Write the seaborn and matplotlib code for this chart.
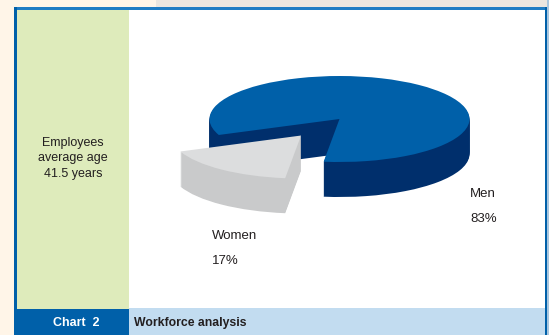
import matplotlib
matplotlib.use("Agg")
import matplotlib.pyplot as plt
from matplotlib.patches import Rectangle
import seaborn as sns

categories = ["Men", "Women"]
shares = [83, 17]
share_labels = ["83%", "17%"]
side_note = ["Employees", "average age", "41.5 years"]
chart_tag = "Chart  2"
chart_title = "Workforce analysis"

W, H = 549, 335
CX, CY, RX, RY = 339.5, 119, 130, 43
DEPTH = 35
START_ANGLE = 263
EXPLODE = [0, 0.485]

sns.set_theme(style="white")
plt.rcParams["font.family"] = ["Liberation Sans", "DejaVu Sans"]

top_colors = sns.color_palette(["#0060a9", "#dcddde"])
side_colors = sns.color_palette(["#002f6c", "#c9cacb"])

fig = plt.figure(figsize=(W / 100, H / 100), dpi=100)


def box(x0, y0, x1, y1, color):
    # Rectangle given in top-left pixel coordinates, behind the pie axes
    fig.add_artist(Rectangle((x0 / W, 1 - y1 / H), (x1 - x0) / W, (y1 - y0) / H,
                             transform=fig.transFigure, facecolor=color,
                             edgecolor="none", zorder=-1))


def label(x, y, text, **kw):
    fig.text(x / W, 1 - y / H, text, va="center", **kw)


box(0, 0, W, H, "#fff5e8")
box(156, 0, W, 7, "#ebe6e0")
box(547, 0, W, H, "#a9c6de")
box(14, 7, 547, H, "#0060a9")
box(17, 7, 545, 9.5, "#1f7cc4")
box(17, 9.5, 129, 309, "#deebbb")
box(129, 9.5, 545, 308, "#ffffff")
box(129, 308, 545, H, "#c2dcf0")

ax = fig.add_axes([0, 0, 1, 1])


def draw_wedge(index, offset, colors):
    # One slice of the pie at a vertical pixel offset; the other slice stays invisible
    slice_colors = [c if i == index else (0, 0, 0, 0) for i, c in enumerate(colors)]
    ax.pie(shares, startangle=START_ANGLE, explode=EXPLODE, colors=slice_colors,
           center=(0, -offset / RY), wedgeprops={"linewidth": 0})


# The solid is a stack of one-pixel layers, with the flat top drawn last
for index in range(len(shares)):
    for offset in range(DEPTH, 0, -1):
        draw_wedge(index, offset, side_colors)
    draw_wedge(index, 0, top_colors)

ax.set_aspect("auto")
ax.set_xlim(-CX / RX, (W - CX) / RX)
ax.set_ylim(-(H - CY) / RY, CY / RY)

for y, line in zip([143, 158, 174], side_note):
    label(73, y, line, ha="center", fontsize=9, color="#231f20")

label(470, 194, categories[0], fontsize=9.5, color="#231f20")
label(470, 219, share_labels[0], fontsize=9.5, color="#231f20")
label(212, 236, categories[1], fontsize=9.5, color="#231f20")
label(212, 261, share_labels[1], fontsize=9.5, color="#231f20")

label(76, 323, chart_tag, ha="center", fontsize=9, fontweight="bold", color="white")
label(134, 323, chart_title, fontsize=8.8, fontweight="bold", color="#231f20")

fig.savefig("out.png", dpi=100)
